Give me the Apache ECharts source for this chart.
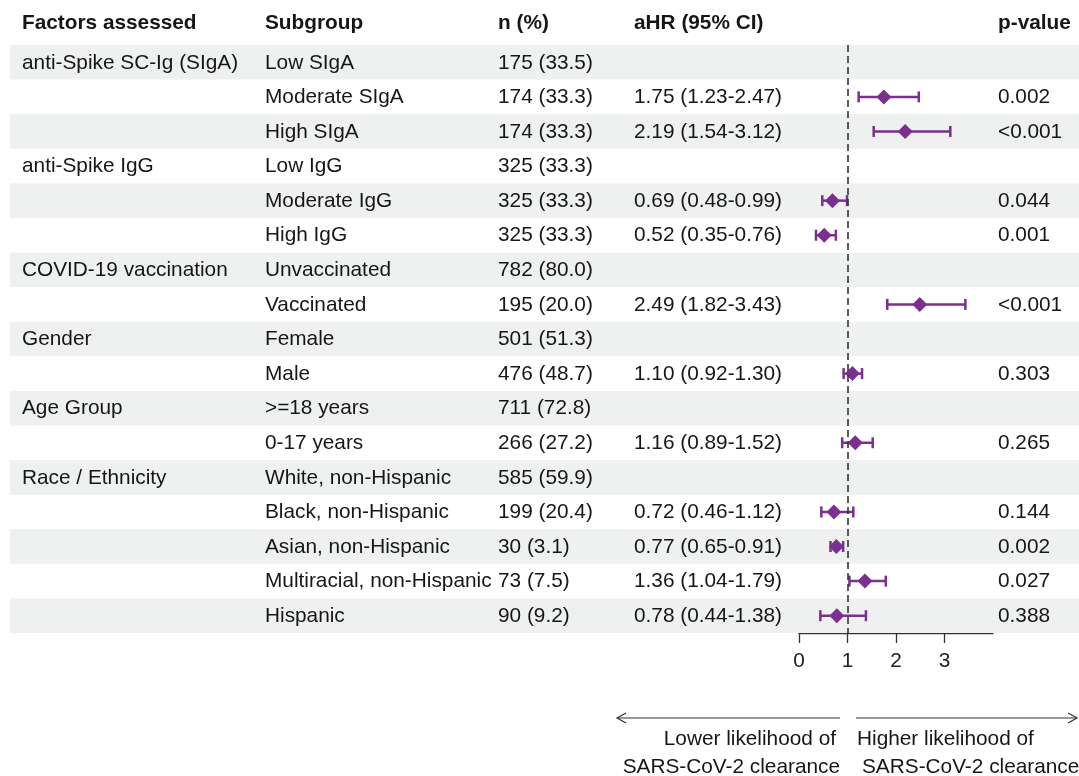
<!DOCTYPE html>
<html>
<head>
<meta charset="utf-8">
<script src="https://cdn.jsdelivr.net/npm/echarts@6/dist/echarts.min.js"></script>
<style>
html,body{margin:0;padding:0;background:#fff;}
#chart{width:1079px;height:776px;}
</style>
</head>
<body>
<div id="chart"></div>
<script>
// ---- data ----
const factors = ['anti-Spike SC-Ig (SIgA)','','','anti-Spike IgG','','','COVID-19 vaccination','','Gender','','Age Group','','Race / Ethnicity','','','',''];
const subgroups = ['Low SIgA','Moderate SIgA','High SIgA','Low IgG','Moderate IgG','High IgG','Unvaccinated','Vaccinated','Female','Male','>=18 years','0-17 years','White, non-Hispanic','Black, non-Hispanic','Asian, non-Hispanic','Multiracial, non-Hispanic','Hispanic'];
const nCount = [175,174,174,325,325,325,782,195,501,476,711,266,585,199,30,73,90];
const nPct = ['33.5','33.3','33.3','33.3','33.3','33.3','80.0','20.0','51.3','48.7','72.8','27.2','59.9','20.4','3.1','7.5','9.2'];
const hr = [null,1.75,2.19,null,0.69,0.52,null,2.49,null,1.10,null,1.16,null,0.72,0.77,1.36,0.78];
const lo = [null,1.23,1.54,null,0.48,0.35,null,1.82,null,0.92,null,0.89,null,0.46,0.65,1.04,0.44];
const hi = [null,2.47,3.12,null,0.99,0.76,null,3.43,null,1.30,null,1.52,null,1.12,0.91,1.79,1.38];
const pval = ['','0.002','<0.001','','0.044','0.001','','<0.001','','0.303','','0.265','','0.144','0.002','0.027','0.388'];
const headers = ['Factors assessed','Subgroup','n (%)','aHR (95% CI)','p-value'];
const xTicks = [0,1,2,3];

// ---- layout / style ----
const FONT = '"Liberation Sans", Arial, sans-serif';
const FS = 20.8;
const TXT = '#161616';
const PURPLE = '#7b2f8e';
const STRIPE = '#eef1f0';
const colX = [22, 265, 498, 634, 998];
const TOP = 45, BOTTOM = 143;

const rows = subgroups.map((_, i) => i);
const fmt = v => v.toFixed(2);

const tableData = rows.map(i => [i]);
const errData = rows.filter(i => hr[i] !== null).map(i => [lo[i], hi[i], i]);
const ptData = rows.filter(i => hr[i] !== null).map(i => [hr[i], i]);

const chart = echarts.init(document.getElementById('chart'), null, {renderer: 'canvas'});

function textEl(x, y, s, bold, align) {
  return {type: 'text', x: x, y: y, style: {text: s, fill: TXT, font: (bold ? 'bold ' : '') + FS + 'px ' + FONT, verticalAlign: 'middle', align: align || 'left'}};
}

const option = {
  backgroundColor: '#fff',
  animation: false,
  grid: [
    {left: 0, right: 0, top: TOP, bottom: BOTTOM},
    {left: 799, right: 86, top: TOP, bottom: BOTTOM}
  ],
  xAxis: [
    {gridIndex: 0, type: 'value', min: 0, max: 1079, show: false},
    {gridIndex: 1, type: 'value', min: 0, max: 4, interval: 1, position: 'bottom',
      axisLine: {show: true, onZero: false, lineStyle: {color: '#333', width: 1.3}},
      axisTick: {show: true, inside: false, length: 10, lineStyle: {color: '#333', width: 1.3}, customValues: xTicks},
      axisLabel: {color: '#222', fontSize: FS, fontFamily: FONT, margin: 18, customValues: xTicks},
      splitLine: {show: false}}
  ],
  yAxis: [
    {gridIndex: 0, type: 'category', data: rows, inverse: true, show: false},
    {gridIndex: 1, type: 'category', data: rows, inverse: true, show: false}
  ],
  series: [
    {
      type: 'custom', xAxisIndex: 0, yAxisIndex: 0, z: 1, silent: true,
      data: tableData,
      encode: {y: 0},
      renderItem: function (params, api) {
        const i = api.value(0);
        const h = api.size([0, 1])[1];
        const cy = api.coord([0, i])[1];
        const children = [];
        if (i % 2 === 0) {
          const x0 = api.coord([10, i])[0];
          const x1 = api.coord([1079, i])[0];
          children.push({type: 'rect', shape: {x: x0, y: cy - h / 2, width: x1 - x0, height: h}, style: {fill: STRIPE}});
        }
        const cells = [factors[i], subgroups[i], nCount[i] + ' (' + nPct[i] + ')',
          hr[i] === null ? '' : fmt(hr[i]) + ' (' + fmt(lo[i]) + '-' + fmt(hi[i]) + ')', pval[i]];
        cells.forEach((s, k) => {
          if (s) children.push({type: 'text', x: api.coord([colX[k], i])[0], y: cy + 0.5,
            style: {text: s, fill: TXT, font: FS + 'px ' + FONT, verticalAlign: 'middle', align: 'left'}});
        });
        return {type: 'group', children: children};
      }
    },
    {
      type: 'custom', xAxisIndex: 1, yAxisIndex: 1, z: 3, silent: true,
      data: errData,
      encode: {x: [0, 1], y: 2},
      renderItem: function (params, api) {
        const a = api.coord([api.value(0), api.value(2)]);
        const b = api.coord([api.value(1), api.value(2)]);
        const cap = 5.5;
        const st = {stroke: PURPLE, lineWidth: 2.5};
        return {type: 'group', children: [
          {type: 'line', shape: {x1: a[0], y1: a[1], x2: b[0], y2: b[1]}, style: st},
          {type: 'line', shape: {x1: a[0], y1: a[1] - cap, x2: a[0], y2: a[1] + cap}, style: st},
          {type: 'line', shape: {x1: b[0], y1: b[1] - cap, x2: b[0], y2: b[1] + cap}, style: st}
        ]};
      }
    },
    {
      type: 'scatter', xAxisIndex: 1, yAxisIndex: 1, z: 4, silent: true,
      data: ptData,
      symbol: 'diamond', symbolSize: [15, 15],
      itemStyle: {color: PURPLE, opacity: 1},
      markLine: {
        silent: true, symbol: ['none', 'none'], label: {show: false},
        lineStyle: {color: '#333', type: [7, 4], width: 1.6},
        data: [{xAxis: 1}]
      }
    }
  ],
  graphic: [
    textEl(colX[0], 23, headers[0], true),
    textEl(colX[1], 23, headers[1], true),
    textEl(colX[2], 23, headers[2], true),
    textEl(colX[3], 23, headers[3], true),
    textEl(colX[4], 23, headers[4], true),
    // arrows
    {type: 'line', shape: {x1: 617, y1: 718, x2: 840, y2: 718}, style: {stroke: '#333', lineWidth: 1.2}},
    {type: 'polyline', shape: {points: [[626, 713], [617, 718], [626, 723]]}, style: {stroke: '#333', lineWidth: 1.2, fill: null}},
    {type: 'line', shape: {x1: 856, y1: 718, x2: 1077, y2: 718}, style: {stroke: '#333', lineWidth: 1.2}},
    {type: 'polyline', shape: {points: [[1068, 713], [1077, 718], [1068, 723]]}, style: {stroke: '#333', lineWidth: 1.2, fill: null}},
    textEl(836, 739, 'Lower likelihood of', false, 'right'),
    textEl(840, 767, 'SARS-CoV-2 clearance', false, 'right'),
    textEl(857, 739, 'Higher likelihood of', false, 'left'),
    textEl(862, 767, 'SARS-CoV-2 clearance', false, 'left')
  ]
};
chart.setOption(option);
</script>
</body>
</html>
